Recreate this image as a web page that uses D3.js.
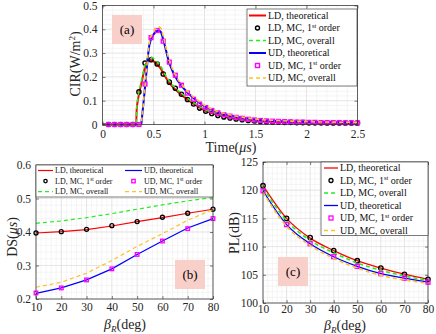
<!DOCTYPE html>
<html><head><meta charset="utf-8">
<script src="https://cdn.jsdelivr.net/npm/d3@7"></script>
<style>body{margin:0;background:#fff}svg{display:block;font-family:"Liberation Serif","Times New Roman",serif}</style>
</head><body><svg id="c" width="436" height="334"></svg>
<script>
// ---------- DATA ----------
// (a) CIR
const cirTimeTh = [0,0.33,0.335,0.35,0.38,0.385,0.42,0.46,0.5,0.55,0.57,0.6,0.65,0.7,0.8,0.9,1.0,1.1,1.2,1.3,1.4,1.5,1.75,2.0,2.25,2.5];
const cirLDth  = [0,0,0.06,0.11,0.17,0.18,0.245,0.272,0.266,0.246,0.236,0.212,0.178,0.153,0.116,0.085,0.060,0.045,0.034,0.027,0.021,0.017,0.011,0.008,0.007,0.006];
const cirLDall = [0,0,0.065,0.12,0.18,0.19,0.255,0.284,0.278,0.256,0.246,0.22,0.186,0.16,0.122,0.09,0.064,0.048,0.037,0.029,0.023,0.019,0.013,0.009,0.008,0.007];
const cirUDth  = [0,0,0,0,0,0.02,0.17,0.335,0.378,0.395,0.39,0.35,0.265,0.212,0.15,0.108,0.077,0.057,0.043,0.034,0.027,0.021,0.014,0.011,0.009,0.008];
const cirUDall = [0,0,0,0,0,0.02,0.175,0.345,0.39,0.41,0.405,0.362,0.275,0.22,0.156,0.113,0.081,0.06,0.046,0.036,0.029,0.023,0.016,0.012,0.010,0.009];
const cirTimeMC = [0.060,0.119,0.179,0.238,0.298,0.357,0.417,0.476,0.536,0.595,0.655,0.714,0.774,0.833,0.893,0.952,1.012,1.071,1.131,1.190,1.250,1.310,1.369,1.429,1.488,1.548,1.607,1.667,1.726,1.786,1.845,1.905,1.964,2.024,2.083,2.143,2.202,2.262,2.321,2.381,2.440,2.500];
const cirLDmc = [0,0,0,0,0,0.137,0.258,0.272,0.254,0.212,0.178,0.152,0.127,0.105,0.086,0.069,0.056,0.046,0.038,0.032,0.027,0.023,0.020,0.017,0.015,0.013,0.012,0.011,0.010,0.009,0.009,0.008,0.008,0.007,0.007,0.007,0.006,0.006,0.006,0.006,0.006,0.006];
const cirUDmc = [0,0,0,0,0,0,0.17,0.365,0.395,0.35,0.262,0.207,0.165,0.132,0.106,0.086,0.071,0.059,0.049,0.041,0.035,0.030,0.026,0.022,0.019,0.017,0.015,0.014,0.013,0.012,0.011,0.010,0.010,0.009,0.009,0.008,0.008,0.008,0.008,0.007,0.007,0.007];
const cirXTicks = [0,0.5,1,1.5,2,2.5];
const cirYTicks = [0,0.1,0.2,0.3,0.4,0.5];
// (b) DS and (c) PL versus beta_R
const beta = [10,20,30,40,50,60,70,80];
const betaTicks = [10,20,30,40,50,60,70,80];
const dsLDth  = [0.397,0.401,0.407,0.418,0.431,0.443,0.456,0.468];
const dsLDmc  = [0.397,0.401,0.408,0.419,0.431,0.444,0.456,0.468];
const dsLDall = [0.426,0.433,0.443,0.455,0.468,0.481,0.493,0.503];
const dsUDth  = [0.217,0.233,0.257,0.290,0.333,0.373,0.412,0.440];
const dsUDmc  = [0.218,0.233,0.257,0.290,0.333,0.373,0.410,0.440];
const dsUDall = [0.235,0.250,0.277,0.315,0.357,0.395,0.435,0.467];
const dsYTicks = [0.2,0.3,0.4,0.5,0.6];
const plLDth  = [120.8,115.0,111.5,109.3,107.5,106.2,105.1,104.2];
const plLDmc  = [120.8,115.0,111.6,109.3,107.5,106.2,105.1,104.2];
const plLDall = [120.5,114.6,111.1,108.9,107.1,105.8,104.8,104.0];
const plUDth  = [119.9,113.9,110.5,108.2,106.5,105.2,104.4,103.7];
const plUDmc  = [119.9,113.9,110.5,108.2,106.5,105.2,104.4,103.7];
const plUDall = [119.6,113.6,110.2,107.9,106.2,104.9,104.1,103.5];
const plYTicks = [100,105,110,115,120,125];
const legendLabels = ["LD, theoretical","LD, MC, 1^st order","LD, MC, overall","UD, theoretical","UD, MC, 1^st order","UD, MC, overall"];

// ---------- DRAW ----------
const svg = d3.select("#c");
const C = {red:"#ff0000", blue:"#0000ff", green:"#22ee22", yellow:"#ffc125", black:"#000000", mag:"#ff00ff", axis:"#262626", pink:"#f9cfca"};
const styles = [
  {type:"line", color:C.red, dash:null},
  {type:"circle", color:C.black},
  {type:"line", color:C.green, dash:"4,3"},
  {type:"line", color:C.blue, dash:null},
  {type:"square", color:C.mag},
  {type:"line", color:C.yellow, dash:"4,3"}
];

function richText(sel, str, fs){
  const parts = str.split("^st");
  sel.append("tspan").text(parts[0]);
  if(parts.length>1){
    sel.append("tspan").attr("font-size", fs*0.65).attr("dy", -fs*0.35).text("st");
    sel.append("tspan").attr("dy", fs*0.35).text(parts[1]);
  }
}

function panel(o){
  const x = d3.scaleLinear().domain(o.xd).range([o.l,o.r]);
  const y = d3.scaleLinear().domain(o.yd).range([o.b,o.t]);
  const g = svg.append("g");
  const eps = 1e-9;
  const xm = d3.range(o.xd[0], o.xd[1]+eps, o.xminor);
  const ym = d3.range(o.yd[0], o.yd[1]+eps, o.yminor);
  const grid = g.append("g");
  grid.selectAll(".xm").data(xm).join("line").attr("x1",d=>x(d)).attr("x2",d=>x(d)).attr("y1",o.t).attr("y2",o.b).attr("stroke","#efefef").attr("stroke-width",0.6);
  grid.selectAll(".ym").data(ym).join("line").attr("y1",d=>y(d)).attr("y2",d=>y(d)).attr("x1",o.l).attr("x2",o.r).attr("stroke","#efefef").attr("stroke-width",0.6);
  grid.selectAll(".xM").data(o.xt).join("line").attr("x1",d=>x(d)).attr("x2",d=>x(d)).attr("y1",o.t).attr("y2",o.b).attr("stroke","#dcdcdc").attr("stroke-width",0.6);
  grid.selectAll(".yM").data(o.yt).join("line").attr("y1",d=>y(d)).attr("y2",d=>y(d)).attr("x1",o.l).attr("x2",o.r).attr("stroke","#dcdcdc").attr("stroke-width",0.6);

  // pink label box
  g.append("rect").attr("x",o.lab[0]).attr("y",o.lab[1]).attr("width",30).attr("height",29).attr("fill",C.pink);
  g.append("text").attr("x",o.lab[0]+15).attr("y",o.lab[1]+19).attr("text-anchor","middle").attr("font-size",13).text(o.labText);

  // series
  o.series.forEach((s,i)=>{
    const st = styles[i];
    const xs = s.x, ys = s.y;
    const pts = xs.map((d,j)=>[d, ys[j]]);
    if(st.type==="line"){
      const line = d3.line().x(d=>x(d[0])).y(d=>y(d[1])).curve(o.curve);
      g.append("path").attr("d",line(pts)).attr("fill","none").attr("stroke",st.color)
        .attr("stroke-width", st.dash? o.dw : o.lw).attr("stroke-dasharray",st.dash);
    } else if(st.type==="circle"){
      g.append("g").selectAll("circle").data(pts).join("circle").attr("cx",d=>x(d[0])).attr("cy",d=>y(d[1]))
        .attr("r",o.mr).attr("fill","none").attr("stroke",C.black).attr("stroke-width",o.mw);
    } else {
      g.append("g").selectAll("rect").data(pts).join("rect").attr("x",d=>x(d[0])-o.sr).attr("y",d=>y(d[1])-o.sr)
        .attr("width",2*o.sr).attr("height",2*o.sr).attr("fill","none").attr("stroke",C.mag).attr("stroke-width",o.mw);
    }
  });

  // axes
  const fmt = d=>String(d);
  const ax = [
    [d3.axisBottom(x).tickValues(o.xt).tickSizeInner(-3).tickSizeOuter(0).tickPadding(o.xpad).tickFormat(fmt), `translate(0,${o.b})`],
    [d3.axisTop(x).tickValues(o.xt).tickSizeInner(-3).tickSizeOuter(0).tickFormat(""), `translate(0,${o.t})`],
    [d3.axisLeft(y).tickValues(o.yt).tickSizeInner(-3).tickSizeOuter(0).tickPadding(5).tickFormat(fmt), `translate(${o.l},0)`],
    [d3.axisRight(y).tickValues(o.yt).tickSizeInner(-3).tickSizeOuter(0).tickFormat(""), `translate(${o.r},0)`]
  ];
  ax.forEach(a=>{
    const ag = g.append("g").attr("transform",a[1]).call(a[0]);
    ag.select(".domain").remove();
    ag.selectAll("line").attr("stroke",C.axis).attr("stroke-width",0.6);
    ag.selectAll("text").attr("font-size",11.5).attr("font-family","Liberation Serif").attr("fill","#262626");
  });
  g.append("rect").attr("x",o.l).attr("y",o.t).attr("width",o.r-o.l).attr("height",o.b-o.t)
    .attr("fill","none").attr("stroke",C.axis).attr("stroke-width",0.7);

  // legend
  const L = o.leg;
  g.append("rect").attr("x",L.x0).attr("y",L.y0).attr("width",L.x1-L.x0).attr("height",L.y1-L.y0)
    .attr("fill","#fff").attr("stroke",C.axis).attr("stroke-width",0.6);
  legendLabels.forEach((lab,i)=>{
    const pos = L.pos(i);
    const st = styles[i];
    const cx = (pos.lx0+pos.lx1)/2;
    if(st.type==="line"){
      g.append("line").attr("x1",pos.lx0).attr("x2",pos.lx1).attr("y1",pos.y).attr("y2",pos.y)
        .attr("stroke",st.color).attr("stroke-width",st.dash?o.dw:o.lw).attr("stroke-dasharray",st.dash);
    } else if(st.type==="circle"){
      g.append("circle").attr("cx",cx).attr("cy",pos.y).attr("r",L.mr).attr("fill","none").attr("stroke",C.black).attr("stroke-width",o.mw);
    } else {
      g.append("rect").attr("x",cx-L.mr).attr("y",pos.y-L.mr).attr("width",2*L.mr).attr("height",2*L.mr).attr("fill","none").attr("stroke",C.mag).attr("stroke-width",o.mw);
    }
    const t = g.append("text").attr("x",pos.tx).attr("y",pos.y).attr("dy","0.33em").attr("font-size",L.fs).attr("fill","#111");
    richText(t, lab, L.fs);
  });
  return {x,y};
}

// (a)
panel({
  l:102.5, r:357.5, t:5.5, b:124.5, xd:[0,2.5], yd:[0,0.5], xt:cirXTicks, yt:cirYTicks, xminor:0.1, yminor:0.02,
  xpad:5, curve:d3.curveMonotoneX, lw:2, dw:1.6, mr:2.1, sr:1.9, mw:1.4, lab:[112,15], labText:"(a)",
  series:[{x:cirTimeTh,y:cirLDth},{x:cirTimeMC,y:cirLDmc},{x:cirTimeTh,y:cirLDall},{x:cirTimeTh,y:cirUDth},{x:cirTimeMC,y:cirUDmc},{x:cirTimeTh,y:cirUDall}],
  leg:{x0:247, x1:357, y0:9, y1:86, fs:10, mr:2, pos:i=>({lx0:249, lx1:266, tx:268, y:15.5+i*12.5})}
});
// (b)
panel({
  l:36, r:213, t:165, b:299, xd:[10,80], yd:[0.2,0.6], xt:betaTicks, yt:dsYTicks, xminor:2, yminor:0.02,
  xpad:4, curve:d3.curveLinear, lw:1.2, dw:1.2, mr:2, sr:1.8, mw:1.3, lab:[175,260], labText:"(b)",
  series:[{x:beta,y:dsLDth},{x:beta,y:dsLDmc},{x:beta,y:dsLDall},{x:beta,y:dsUDth},{x:beta,y:dsUDmc},{x:beta,y:dsUDall}],
  leg:{x0:36, x1:213, y0:165, y1:197, fs:8, mr:1.7,
       pos:i=>{const col = i<3?0:1, row = i%3; return {lx0: col?125:38, lx1: col?142:53, tx: col?144:55, y:170.5+row*10.6};}}
});
// (c)
panel({
  l:263, r:428, t:162, b:303, xd:[10,80], yd:[100,125], xt:betaTicks, yt:plYTicks, xminor:2, yminor:1,
  xpad:2, curve:d3.curveMonotoneX, lw:1.3, dw:1.6, mr:2.2, sr:2, mw:1.3, lab:[278,257], labText:"(c)",
  series:[{x:beta,y:plLDth},{x:beta,y:plLDmc},{x:beta,y:plLDall},{x:beta,y:plUDth},{x:beta,y:plUDmc},{x:beta,y:plUDall}],
  leg:{x0:321, x1:428, y0:162, y1:235.5, fs:10, mr:2, pos:i=>({lx0:324, lx1:338, tx:340, y:168+i*12.5})}
});

// axis labels
function ylab(x, y, parts){
  const t = svg.append("text").attr("transform",`translate(${x},${y}) rotate(-90)`).attr("text-anchor","middle").attr("font-size",14).attr("fill","#262626");
  parts(t);
}
ylab(80, 64, t=>{ t.append("tspan").text("CIR(W/m"); t.append("tspan").attr("font-size",9).attr("dy",-5).text("2"); t.append("tspan").attr("dy",5).text(")"); });
ylab(16.5, 237, t=>{ t.append("tspan").text("DS("); t.append("tspan").attr("font-style","italic").text("μs"); t.append("tspan").text(")"); });
ylab(239, 233, t=>{ t.append("tspan").text("PL(dB)"); });

function xlab(x, y, parts){
  const t = svg.append("text").attr("x",x).attr("y",y).attr("text-anchor","middle").attr("font-size",14).attr("fill","#262626");
  parts(t);
}
xlab(231, 152, t=>{ t.append("tspan").text("Time("); t.append("tspan").attr("font-style","italic").text("μs"); t.append("tspan").text(")"); });
const betaLab = t=>{ t.append("tspan").attr("font-style","italic").text("β"); t.append("tspan").attr("font-style","italic").attr("font-size",9).attr("dy",3).text("R"); t.append("tspan").attr("dy",-3).text("(deg)"); };
xlab(125, 328.5, betaLab);
xlab(345, 329.5, betaLab);
</script></body></html>
